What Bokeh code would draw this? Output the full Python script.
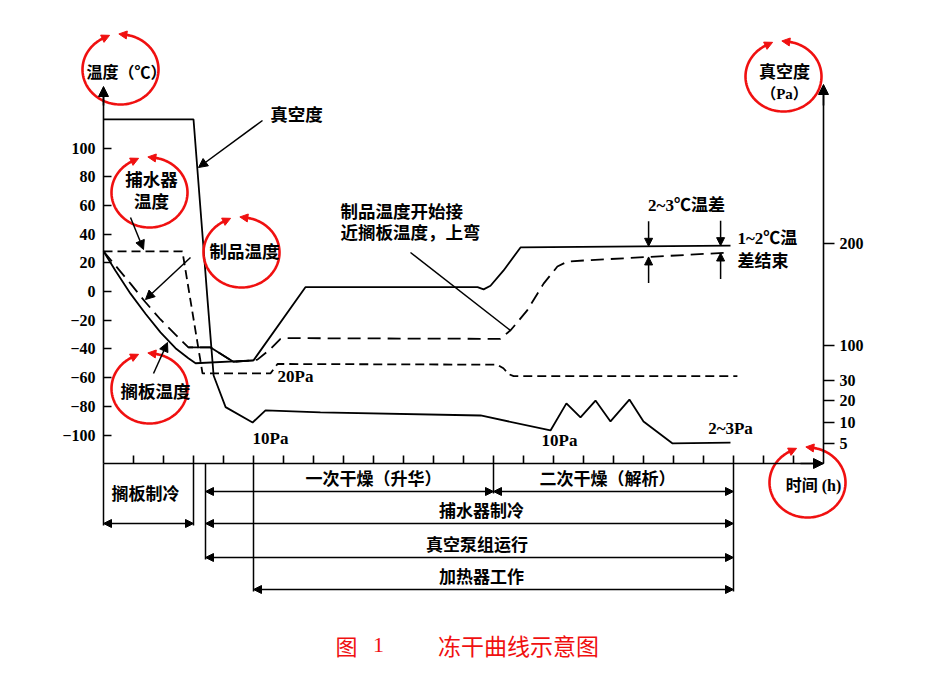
import numpy as np
from bokeh.plotting import figure
from bokeh.models import (LinearAxis, FixedTicker, CustomJSTickFormatter, Range1d,
                          Arrow, NormalHead, Label)
from bokeh.embed import file_html
from bokeh.resources import INLINE

# ---------------- data ----------------
TEMP_TICKS = [-100, -80, -60, -40, -20, 0, 20, 40, 60, 80, 100]
HOUR_TICKS = list(range(1, 24))
PA_TICKS = [5, 10, 20, 30, 100, 200]
# schematic (broken) vacuum scale: temperature-axis level of each pressure tick
PA_TICK_AT_C = [-105.9, -91.3, -76.0, -62.0, -37.6, 33.4]
ATM_PA = 101325
ATM_AT_C = 120.0

SHELF_H = [0, 0.4, 0.9, 1.4, 1.9, 2.4, 2.83, 3.07, 5.0, 6.73, 12.47, 12.67, 12.9, 13.33, 13.9, 20.9]
SHELF_C = [28, 14.5, -1.5, -15.5, -28.5, -39.5, -46.5, -50, -48, 3, 3, 1.5, 4, 14.5, 30.7, 32]

PRODUCT_H = [0, 0.4, 0.9, 1.4, 1.9, 2.4, 2.83, 3.57, 4.33, 5.0, 5.13, 5.57, 5.9, 6.0,
             13.23, 13.57, 14.13, 14.67, 15.13, 15.47, 16.0, 20.9]
PRODUCT_C = [28, 18, 5.5, -7.5, -19.5, -30, -39, -39, -49, -48, -47.5, -40, -33, -32.5,
             -33, -27, -13, 5.5, 17.4, 20.9, 21.6, 27.2]
PRODUCT_SOLID_H = (2.83, 5.0)

CONDENSER_H = [0, 2.63, 3.3, 5.57, 5.8, 13.13, 13.33, 13.5, 13.67, 21.13]
CONDENSER_C = [28, 28, -57, -57, -50.5, -51, -53.5, -57.5, -59, -59]

VACUUM_H = [0.0, 3.0, 3.47, 3.67, 4.07, 4.97, 5.4, 7.23, 12.57, 14.9, 15.43, 15.9,
            16.4, 16.9, 17.53, 18.0, 18.97, 20.9]
VACUUM_PA = [ATM_PA, ATM_PA, 144, 40, 17, 10, 15.5, 14.6, 13.2, 8.1, 18.7, 12.3,
             20, 10.5, 20.5, 10.5, 5, 5.2]

BAR_NAMES = ["搁板制冷", "一次干燥（升华）", "二次干燥（解析）", "捕水器制冷", "真空泵组运行", "加热器工作"]
BAR_START = [0.0, 3.4, 13.0, 3.4, 3.4, 5.0]
BAR_END = [3.0, 13.0, 21.0, 21.0, 21.0, 21.0]
BAR_ROW = [1, 0, 0, 1, 2, 3]

DIFF_MARK_H = [18.17, 20.57]

# ---------------- layout helpers ----------------
W, H = 914, 670
X0_PX, PX_PER_H = 103.0, 30.0
Y0_PX, PX_PER_C = 291.0, 1.435
OFF = 0  # canvas origin in reference-pixel space


def tx(px):
    return (np.asarray(px, dtype=float) - X0_PX) / PX_PER_H


def ty(py):
    return (Y0_PX - np.asarray(py, dtype=float)) / PX_PER_C


def pa_to_c(pa):
    return np.interp(pa, PA_TICKS + [ATM_PA], PA_TICK_AT_C + [ATM_AT_C])


AX_BOTTOM = float(ty(463))
CJK = "Noto Sans CJK SC"
SERIF = "Liberation Serif"
MIX = "Liberation Serif, Noto Sans CJK SC"
RED = "#f01010"

p = figure(width=W, height=H, output_backend="svg", toolbar_location=None,
           x_range=Range1d(float(tx(OFF)), float(tx(OFF + W))),
           y_range=Range1d(float(ty(OFF + H)), float(ty(OFF))),
           x_axis_location=None, y_axis_location=None, min_border=0)
p.outline_line_color = None
p.xgrid.grid_line_color = None
p.ygrid.grid_line_color = None
p.background_fill_color = "white"
p.border_fill_color = "white"


def style_axis(ax):
    ax.axis_line_color = "black"
    ax.axis_line_width = 1.6
    ax.major_tick_line_color = "black"
    ax.major_tick_line_width = 1.6
    ax.minor_tick_line_color = None
    ax.major_label_text_font = SERIF
    ax.major_label_text_font_size = "16px"
    ax.major_label_text_font_style = "bold"
    ax.major_label_text_color = "black"


left_ax = LinearAxis(fixed_location=0, bounds=(AX_BOTTOM, float(ty(88))),
                     ticker=FixedTicker(ticks=TEMP_TICKS),
                     major_tick_in=8, major_tick_out=0, major_label_standoff=8)
style_axis(left_ax)
p.add_layout(left_ax, "left")

right_ax = LinearAxis(fixed_location=24, bounds=(AX_BOTTOM, float(ty(86))),
                      ticker=FixedTicker(ticks=PA_TICK_AT_C),
                      formatter=CustomJSTickFormatter(
                          args=dict(pos=PA_TICK_AT_C, lab=[str(v) for v in PA_TICKS]),
                          code="const i = pos.findIndex(q => Math.abs(q - tick) < 1e-6); return i < 0 ? '' : lab[i];"),
                      major_tick_in=0, major_tick_out=11, major_label_standoff=5)
style_axis(right_ax)
p.add_layout(right_ax, "right")

bottom_ax = LinearAxis(fixed_location=AX_BOTTOM, bounds=(0, 24),
                       ticker=FixedTicker(ticks=HOUR_TICKS),
                       formatter=CustomJSTickFormatter(code="return '';"),
                       major_tick_in=8, major_tick_out=0, major_label_standoff=0)
style_axis(bottom_ax)
p.add_layout(bottom_ax, "below")


def head(color="black", size=9):
    return NormalHead(size=size, fill_color=color, line_color=color, line_width=1)


# axis arrow heads
for xs, ys, xe, ye in [(0, ty(105), 0, ty(86)), (24, ty(105), 24, ty(84)),
                       (tx(800), AX_BOTTOM, 24, AX_BOTTOM)]:
    p.add_layout(Arrow(x_start=float(xs), y_start=float(ys), x_end=float(xe), y_end=float(ye),
                       start=None, end=head(size=10), line_width=1.6))

# ---------------- curves ----------------
LW = 1.8
p.line(SHELF_H, SHELF_C, line_color="black", line_width=LW)
p.line(PRODUCT_H, PRODUCT_C, line_color="black", line_width=LW, line_dash="13 7")
ph = np.array(PRODUCT_H)
mask = (ph >= PRODUCT_SOLID_H[0]) & (ph <= PRODUCT_SOLID_H[1])
p.line(ph[mask], np.array(PRODUCT_C)[mask], line_color="black", line_width=LW)
p.line(CONDENSER_H, CONDENSER_C, line_color="black", line_width=LW, line_dash="9 5")
p.line(VACUUM_H, pa_to_c(VACUUM_PA), line_color="black", line_width=LW)

# temperature difference markers
for t in DIFF_MARK_H:
    s = float(np.interp(t, SHELF_H, SHELF_C))
    c = float(np.interp(t, PRODUCT_H, PRODUCT_C))
    p.add_layout(Arrow(x_start=t, y_start=s + 25 / PX_PER_C, x_end=t, y_end=s,
                       start=None, end=head(size=8), line_width=1.5))
    p.add_layout(Arrow(x_start=t, y_start=c - 26 / PX_PER_C, x_end=t, y_end=c,
                       start=None, end=head(size=8), line_width=1.5))

# leader arrows (image pixel layout)
for (x1, y1, x2, y2, with_head) in [(262, 120, 198, 167, True), (130, 217, 143, 249, True),
                                     (190, 257, 145, 299, True), (153, 373, 167, 342, True),
                                     (410, 252, 510, 330, False)]:
    p.add_layout(Arrow(x_start=float(tx(x1)), y_start=float(ty(y1)),
                       x_end=float(tx(x2)), y_end=float(ty(y2)),
                       start=None, end=head(size=9) if with_head else None, line_width=1.5))

# ---------------- timeline bars ----------------
ROW_Y_PX = [491, 523, 557, 589]
BAR_LABEL_H = [1.4, 9.0, 16.8, 12.6, 12.45, 12.6]
bottoms = {}
for name, s, e, r, lh in zip(BAR_NAMES, BAR_START, BAR_END, BAR_ROW, BAR_LABEL_H):
    yy = float(ty(ROW_Y_PX[r]))
    p.add_layout(Arrow(x_start=s, y_start=yy, x_end=e, y_end=yy,
                       start=head(size=8), end=head(size=8), line_width=1.5))
    off = 31 if s == 0 else 14
    p.add_layout(Label(x=lh, y=float(ty(ROW_Y_PX[r] - off)), text=name, text_align="center",
                       text_baseline="middle", text_font=CJK, text_font_size="17px",
                       text_font_style="bold", text_color="black"))
    for t in (s, e):
        bottoms[t] = max(bottoms.get(t, 0), ROW_Y_PX[r] + 2)
bt = list(bottoms.keys())
p.segment(x0=bt, y0=[AX_BOTTOM] * len(bt), x1=bt, y1=[float(ty(v)) for v in bottoms.values()],
          line_color="black", line_width=1.5)

# ---------------- texts ----------------
TEXTS = [
    ("温度（℃）", 126, 70, "center", CJK, "16px", "bold", "black"),
    ("真空度", 296, 113, "center", CJK, "17.5px", "bold", "black"),
    ("捕水器", 151, 178, "center", CJK, "17.5px", "bold", "black"),
    ("温度", 151, 200, "center", CJK, "17.5px", "bold", "black"),
    ("制品温度", 244, 250, "center", CJK, "17.5px", "bold", "black"),
    ("搁板温度", 155, 390, "center", CJK, "17.5px", "bold", "black"),
    ("制品温度开始接", 340, 210, "left", CJK, "17.5px", "bold", "black"),
    ("近搁板温度，上弯", 340, 231, "left", CJK, "17.5px", "bold", "black"),
    ("2~3℃温差", 686, 205, "center", MIX, "17px", "bold", "black"),
    ("1~2℃温", 737, 238, "left", MIX, "17px", "bold", "black"),
    ("差结束", 737, 259, "left", CJK, "17px", "bold", "black"),
    ("20Pa", 295, 376, "center", SERIF, "17px", "bold", "black"),
    ("10Pa", 270, 438, "center", SERIF, "17px", "bold", "black"),
    ("10Pa", 559, 440, "center", SERIF, "17px", "bold", "black"),
    ("2~3Pa", 730, 428, "center", SERIF, "17px", "bold", "black"),
    ("真空度", 784, 70, "center", CJK, "17px", "bold", "black"),
    ("（Pa）", 784, 93, "center", MIX, "15px", "bold", "black"),
    ("时间 (h)", 813, 485, "center", MIX, "16px", "bold", "black"),
    ("图", 346, 644, "center", CJK, "22px", "normal", RED),
    ("1", 378, 644, "center", SERIF, "22px", "normal", RED),
    ("冻干曲线示意图", 518, 644, "center", CJK, "23px", "normal", RED),
]
for text, px, py, al, font, size, style, color in TEXTS:
    p.add_layout(Label(x=float(tx(px)), y=float(ty(py)), text=text, text_align=al,
                       text_baseline="middle", text_font=font, text_font_size=size,
                       text_font_style=style, text_color=color))

# ---------------- red hand-drawn circles ----------------
CIRCLES_PX = [(120, 69), (149, 192), (241, 252), (149, 388), (783, 76), (807, 482)]
RX, RY = 38.0, 35.0
A0, A1 = 117.0, 82.0
th = np.radians(np.linspace(A0, A1 + 360, 140))
for cx, cy in CIRCLES_PX:
    p.line(tx(cx + RX * np.cos(th)), ty(cy - RY * np.sin(th)), line_color=RED, line_width=2.6)
    for ang, sign in ((A0, -1), (A1, 1)):
        a = np.radians(ang)
        ex, ey = cx + RX * np.cos(a), cy - RY * np.sin(a)
        dx, dy = -sign * RX * np.sin(a), -sign * RY * np.cos(a)
        n = np.hypot(dx, dy)
        dx, dy = dx / n, dy / n
        p.add_layout(Arrow(x_start=float(tx(ex - dx)), y_start=float(ty(ey - dy)),
                           x_end=float(tx(ex + 7 * dx)), y_end=float(ty(ey + 7 * dy)),
                           start=None, end=head(RED, 8), line_width=1, line_color=RED))

open("out.html", "w").write(file_html(p, INLINE))
